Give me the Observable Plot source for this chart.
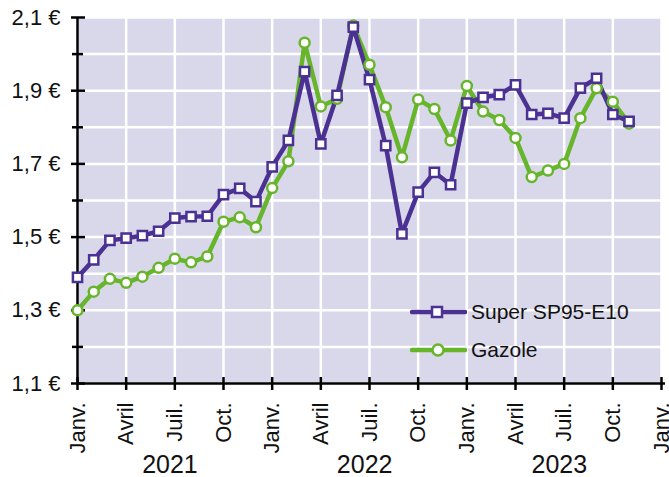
<!DOCTYPE html>
<html>
<head>
<meta charset="utf-8">
<script src="https://cdn.jsdelivr.net/npm/d3@7"></script>
<script src="https://cdn.jsdelivr.net/npm/@observablehq/plot@0.6"></script>
<style>
  html, body { margin: 0; padding: 0; background: #fff; }
  #wrap { position: relative; width: 669px; height: 477px; font-family: "Liberation Sans", Arial, sans-serif; }
  #legend { position: absolute; left: 410px; top: 293px; font-size: 21px; color: #111; }
  #legend .row { display: flex; align-items: center; height: 38px; }
  #legend svg { margin-right: 4px; }
</style>
</head>
<body>
<div id="wrap"><div id="legend"></div></div>
<script>
// ---- Data ----
const months = ["2021-01","2021-02","2021-03","2021-04","2021-05","2021-06","2021-07","2021-08","2021-09","2021-10","2021-11","2021-12",
                "2022-01","2022-02","2022-03","2022-04","2022-05","2022-06","2022-07","2022-08","2022-09","2022-10","2022-11","2022-12",
                "2023-01","2023-02","2023-03","2023-04","2023-05","2023-06","2023-07","2023-08","2023-09","2023-10","2023-11"];
const superSP95 = [1.390, 1.438, 1.491, 1.497, 1.504, 1.516, 1.552, 1.556, 1.557, 1.616, 1.633, 1.597,
                   1.692, 1.764, 1.952, 1.755, 1.887, 2.074, 1.930, 1.750, 1.509, 1.623, 1.677, 1.643,
                   1.866, 1.882, 1.889, 1.916, 1.835, 1.838, 1.825, 1.907, 1.934, 1.835, 1.816];
const gazole = [1.300, 1.351, 1.386, 1.375, 1.392, 1.416, 1.441, 1.431, 1.447, 1.542, 1.554, 1.527,
                1.634, 1.707, 2.031, 1.857, 1.878, 2.078, 1.971, 1.855, 1.718, 1.876, 1.850, 1.764,
                1.913, 1.843, 1.820, 1.771, 1.664, 1.682, 1.700, 1.825, 1.907, 1.870, 1.810];
const seriesNames = ["Super SP95-E10", "Gazole"];
const monthTickLabels = ["Janv.", "Avril", "Juil.", "Oct."];
const years = ["2021", "2022", "2023"];
const yMajorTicks = [1.1, 1.3, 1.5, 1.7, 1.9, 2.1];
const yMinorTicks = [1.2, 1.4, 1.6, 1.8, 2.0];

// ---- Styles ----
const purple = "#4a3192";
const green = "#66b52b";
const bg = "#d9d7ea";
const W = 669, H = 477, mL = 77, mR = 8, mT = 17, mB = 94;
const pw = W - mL - mR, ph = H - mT - mB;

const idx = m => { const [y, mo] = m.split("-").map(Number); return (y - 2021) * 12 + (mo - 1); };
const superData = months.map((m, i) => ({x: idx(m), y: superSP95[i]}));
const gazData = months.map((m, i) => ({x: idx(m), y: gazole[i]}));
const xTicks = d3.range(0, 37, 3);
const font = "Liberation Sans, Arial, sans-serif";

const chart = Plot.plot({
  width: W, height: H,
  marginLeft: mL, marginRight: mR, marginTop: mT, marginBottom: mB,
  style: {fontFamily: font, background: "white"},
  x: {type: "linear", domain: [0, 36]},
  y: {domain: [1.1, 2.1]},
  marks: [
    Plot.frame({fill: bg, stroke: null}),
    Plot.gridX(xTicks, {stroke: "white", strokeOpacity: 1, strokeWidth: 2.5}),
    Plot.gridY(d3.range(11).map(i => 1.1 + i * 0.1), {stroke: "white", strokeOpacity: 1, strokeWidth: 2.5}),
    // axis lines
    Plot.ruleX([0], {stroke: "black", strokeWidth: 2.5}),
    Plot.ruleY([1.1], {stroke: "black", strokeWidth: 2.5, insetRight: -4}),
    // y ticks crossing axis
    Plot.tickY(yMajorTicks, {y: d => d, stroke: "black", strokeWidth: 2.5, insetRight: pw - 14, dx: -6}),
    Plot.tickY(yMinorTicks, {y: d => d, stroke: "black", strokeWidth: 2.5, insetRight: pw - 11, dx: -5}),
    // x ticks crossing axis
    Plot.tickX(xTicks, {x: d => d, stroke: "black", strokeWidth: 2.5, insetTop: ph - 13, dy: 7}),
    Plot.axisY(yMajorTicks, {label: null, tickSize: 0, tickPadding: 17, fontSize: 22, fill: "#111",
      tickFormat: d => d.toFixed(1).replace(".", ",") + " €"}),
    Plot.axisX(xTicks, {label: null, tickSize: 0, tickPadding: 19, tickRotate: -90, fontSize: 22, fill: "#111",
      tickFormat: d => monthTickLabels[(d / 3) % 4]}),
    Plot.text(years, {x: (d, i) => i * 12 + 5.7, y: () => 1.1, dy: 81, text: d => d,
      fontSize: 25, fill: "#111", lineAnchor: "middle"}),
    // series
    Plot.line(gazData, {x: "x", y: "y", stroke: green, strokeWidth: 4.5}),
    Plot.line(superData, {x: "x", y: "y", stroke: purple, strokeWidth: 4.5}),
    Plot.dot(gazData, {x: "x", y: "y", r: 5, fill: "white", stroke: green, strokeWidth: 2.5}),
    Plot.dot(superData, {x: "x", y: "y", r: 5.2, symbol: "square", fill: "white", stroke: purple, strokeWidth: 2.5})
  ]
});
document.getElementById("wrap").prepend(chart);

// ---- Legend ----
const legend = document.getElementById("legend");
const legendItems = [
  {name: seriesNames[0], color: purple, shape: "square"},
  {name: seriesNames[1], color: green, shape: "circle"}
];
for (const it of legendItems) {
  const row = document.createElement("div");
  row.className = "row";
  const marker = it.shape === "square"
    ? `<rect x="22" y="6" width="10" height="10" fill="white" stroke="${it.color}" stroke-width="2.5"/>`
    : `<circle cx="28" cy="11" r="5.5" fill="white" stroke="${it.color}" stroke-width="2.5"/>`;
  row.innerHTML = `<svg width="57" height="22"><line x1="2" x2="55" y1="11" y2="11" stroke="${it.color}" stroke-width="4.5" stroke-linecap="round"/>${marker}</svg><span>${it.name}</span>`;
  legend.appendChild(row);
}
</script>
</body>
</html>
